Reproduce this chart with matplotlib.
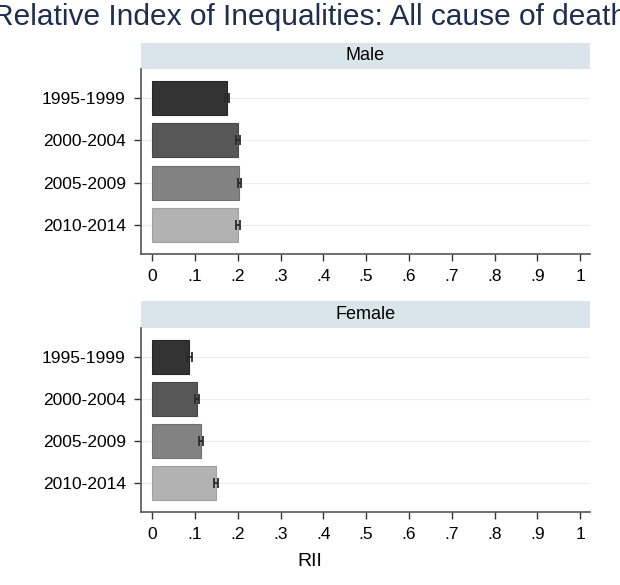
import numpy as np
import matplotlib.pyplot as plt

plt.rcParams['font.family'] = ['Liberation Sans', 'DejaVu Sans']

periods = ["1995-1999", "2000-2004", "2005-2009", "2010-2014"]
male_rii = [0.175, 0.201, 0.204, 0.201]
male_err = [0.004, 0.004, 0.004, 0.004]
female_rii = [0.087, 0.104, 0.114, 0.150]
female_err = [0.005, 0.005, 0.005, 0.005]
panels = ["Male", "Female"]
bar_colors = ["#333333", "#575757", "#828282", "#b2b2b2"]
edge_colors = ["#262626", "#474747", "#707070", "#a0a0a0"]

W, H = 620, 585
fig = plt.figure(figsize=(W / 100, H / 100), dpi=100)


def px_axes(x0, y0, x1, y1):
    return fig.add_axes([x0 / W, 1 - y1 / H, (x1 - x0) / W, (y1 - y0) / H])


fig.text(0.5, 1 - 17 / H, "Relative Index of Inequalities: All cause of death",
         ha="center", va="center", fontsize=21.5, color="#1f2d4e")

layout = [(43, 69, 254), (301, 328, 512)]
data = [(male_rii, male_err), (female_rii, female_err)]

for (strip_top, ax_top, ax_bot), name, (vals, errs) in zip(layout, panels, data):
    strip = px_axes(141, strip_top, 590, ax_top)
    strip.set_facecolor("#d9e5ea")
    strip.set_xticks([])
    strip.set_yticks([])
    for s in strip.spines.values():
        s.set_visible(False)
    strip.text(0.5, 0.5, name, ha="center", va="center", fontsize=13,
               transform=strip.transAxes)

    ax = px_axes(141, ax_top, 590, ax_bot)
    y = np.arange(len(periods))
    for i in range(len(periods)):
        ax.axhline(y[i], color="#ececec", lw=0.8, zorder=0)
    ax.barh(y, vals, height=0.8, color=bar_colors, edgecolor=edge_colors,
            linewidth=0.8, zorder=2)
    ax.errorbar(vals, y, xerr=errs, fmt="none", ecolor="#2a2a2a",
                elinewidth=1.3, capsize=3.8, capthick=1.3, zorder=3)
    ax.set_xlim(-0.026, 1.023)
    ax.set_ylim(3.69, -0.69)
    ax.set_yticks(y)
    ax.set_yticklabels(periods, fontsize=12.5)
    xt = np.arange(0, 11) / 10
    ax.set_xticks(xt)
    ax.set_xticklabels(["0"] + ["." + str(i) for i in range(1, 10)] + ["1"],
                       fontsize=12.5)
    ax.tick_params(axis="both", length=5, width=1, color="#333333", pad=6)
    for side in ["top", "right"]:
        ax.spines[side].set_visible(False)
    for side in ["left", "bottom"]:
        ax.spines[side].set_color("#555555")
        ax.spines[side].set_linewidth(1.2)

fig.text(0.5, 1 - 562 / H, "RII", ha="center", va="center", fontsize=14)

fig.savefig("out.png", dpi=100, facecolor="white")
